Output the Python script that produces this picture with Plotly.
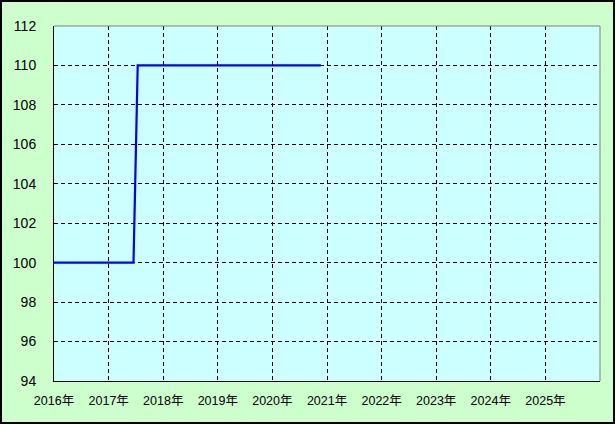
import plotly.graph_objects as go

# Data
dates = ["2016-01-01", "2017-06-16", "2017-06-23", "2017-06-30", "2017-07-07", "2017-07-14", "2020-11-20"]
values = [100, 100, 102.5, 105, 107.5, 110, 110]

tick_years = [2016, 2017, 2018, 2019, 2020, 2021, 2022, 2023, 2024, 2025]
tick_vals = [f"{y}-01-01" for y in tick_years]
tick_text = [f"{y}年" for y in tick_years]

y_ticks = list(range(94, 113, 2))

FONT = "Liberation Sans, Arial, Noto Sans CJK JP, sans-serif"

fig = go.Figure()
fig.add_trace(go.Scatter(
    x=dates, y=values, mode="lines",
    line=dict(color="#0000FF", width=2.2),
    hoverinfo="skip", showlegend=False,
))

W, H = 615, 424
L, R, T, B = 54, 15, 26, 43
pw, ph = W - L - R, H - T - B

def px_x(px):
    return (px - L) / pw

def px_y(py):
    return (H - B - py) / ph

fig.update_layout(
    width=W, height=H,
    margin=dict(l=L, r=R, t=T, b=B, pad=0, autoexpand=False),
    paper_bgcolor="#CCFFCC",
    plot_bgcolor="#CCFFFF",
    font=dict(family=FONT, size=13, color="#000000"),
    xaxis=dict(
        type="date",
        range=["2016-01-01", "2026-01-01"],
        tickvals=tick_vals, ticktext=tick_text,
        tickfont=dict(size=12.5),
        showgrid=True, gridcolor="#000000", gridwidth=1, griddash="4px,3px",
        showline=True, linecolor="#000000", linewidth=1,
        ticks="", ticklabelstandoff=8,
        zeroline=False, fixedrange=True, automargin=False,
    ),
    yaxis=dict(
        range=[94, 112],
        tickvals=y_ticks,
        tickfont=dict(size=14),
        showgrid=True, gridcolor="#000000", gridwidth=1, griddash="4px,3px",
        showline=True, linecolor="#000000", linewidth=1,
        ticks="", ticklabelstandoff=14,
        zeroline=False, fixedrange=True, automargin=False,
    ),
    shapes=[
        dict(type="line", xref="paper", yref="paper", x0=0, x1=1, y0=1, y1=1,
             line=dict(color="#808080", width=1)),
        dict(type="line", xref="paper", yref="paper", x0=1, x1=1, y0=0, y1=1,
             line=dict(color="#808080", width=1)),
        dict(type="rect", xref="paper", yref="paper",
             x0=px_x(1), x1=px_x(W - 1), y0=px_y(H - 1), y1=px_y(1),
             line=dict(color="#000000", width=2), fillcolor="rgba(0,0,0,0)"),
    ],
)

fig.write_html(
    "out.html",
    config={"displayModeBar": False},
    post_script="document.body.style.margin='0';document.body.style.padding='0';document.body.style.overflow='hidden';",
)
